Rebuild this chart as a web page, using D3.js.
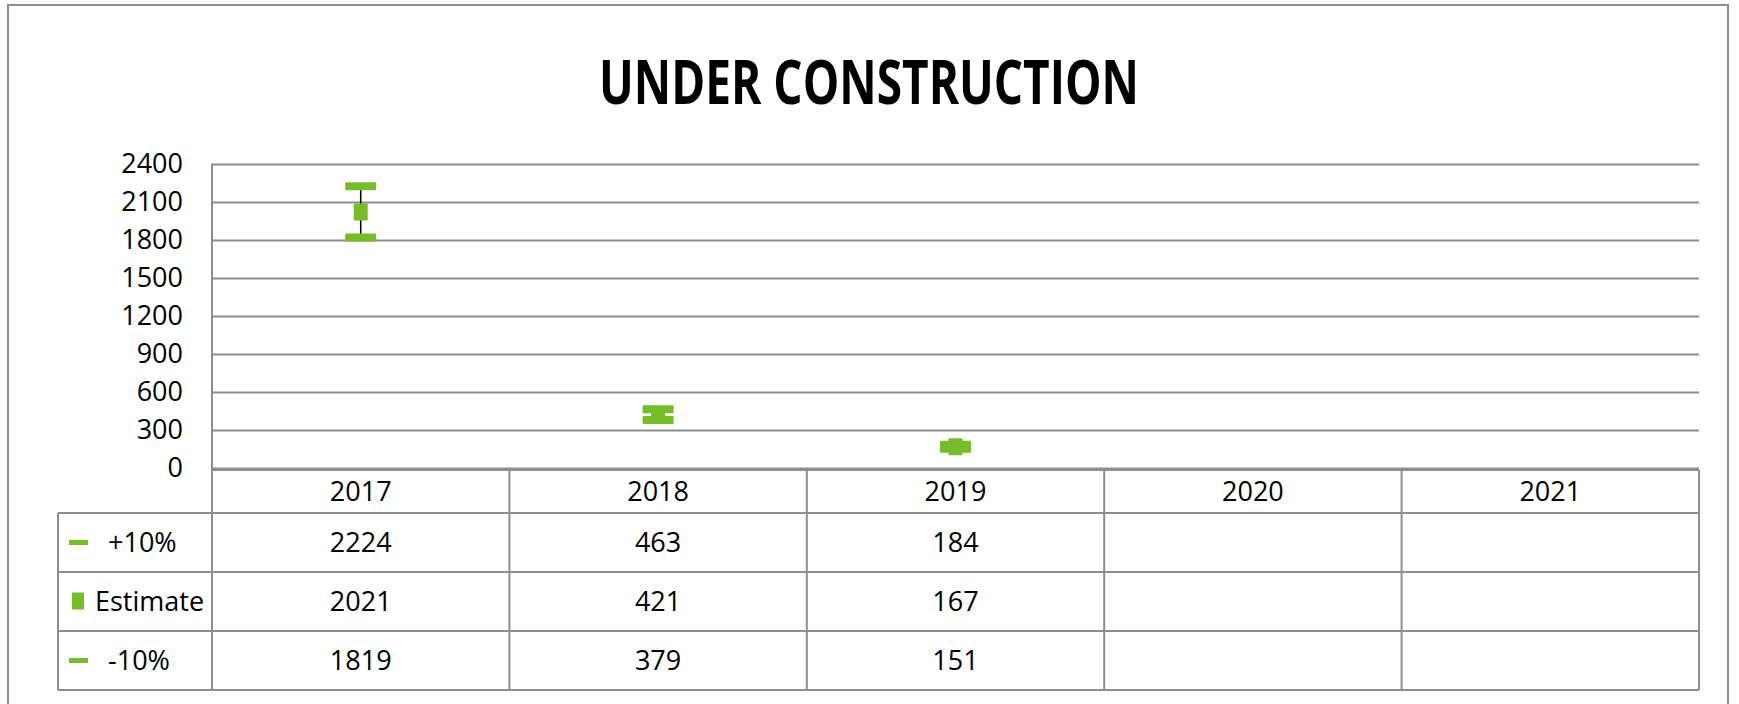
<!DOCTYPE html>
<html>
<head>
<meta charset="utf-8">
<script src="https://cdn.jsdelivr.net/npm/d3@7"></script>
<style>
  html, body { margin: 0; padding: 0; background: #fff; }
  svg { display: block; }
  text { font-family: "Open Sans", "Liberation Sans", sans-serif; fill: #000; }
</style>
</head>
<body>
<svg id="chart" width="1739" height="704"></svg>
<script>
// ---- data ----
const categories = ["2017", "2018", "2019", "2020", "2021"];
const seriesNames = ["+10%", "Estimate", "-10%"];
const plus10 = [2224, 463, 184, null, null];
const estimate = [2021, 421, 167, null, null];
const minus10 = [1819, 379, 151, null, null];
const yTicks = [0, 300, 600, 900, 1200, 1500, 1800, 2100, 2400];
const titleText = "UNDER CONSTRUCTION";

// ---- layout ----
const W = 1739, H = 704;
const green = "#77BC2A";
const gridColor = "#8E8E8E";
const plotLeft = 212, plotRight = 1699, plotTop = 164, plotBottom = 468;
const tableTop = 470, rowTops = [513, 572, 631], tableBottom = 690, legendLeft = 58;

const svg = d3.select("#chart");

// outer frame
svg.append("rect")
  .attr("x", 8).attr("y", 5).attr("width", 1720).attr("height", 710)
  .attr("fill", "none").attr("stroke", gridColor).attr("stroke-width", 2);

// title
svg.append("text")
  .attr("x", 869).attr("y", 104)
  .attr("text-anchor", "middle")
  .attr("font-size", 60).attr("font-weight", "bold")
  .attr("textLength", 540).attr("lengthAdjust", "spacingAndGlyphs")
  .text(titleText);

// scales
const x = d3.scaleBand().domain(categories).range([plotLeft, plotRight]).padding(0);
const y = d3.scaleLinear().domain([0, 2400]).range([plotBottom, plotTop]);

// gridlines + y labels
const yAxis = d3.axisLeft(y).tickValues(yTicks).tickSize(-(plotRight - plotLeft)).tickPadding(29).tickFormat(d3.format("d"));
const gy = svg.append("g").attr("transform", `translate(${plotLeft},0)`).call(yAxis);
gy.select(".domain").remove();
gy.selectAll(".tick line").attr("stroke", gridColor).attr("stroke-width", 2);
gy.selectAll(".tick text").attr("font-size", 27).attr("font-family", "\"Open Sans\", sans-serif").attr("fill", "#000");

// vertical axis line
svg.append("line")
  .attr("x1", plotLeft).attr("x2", plotLeft)
  .attr("y1", y(2400)).attr("y2", tableTop)
  .attr("stroke", gridColor).attr("stroke-width", 2);

// ---- data table ----
const tbl = svg.append("g");
// horizontal lines
tbl.append("line").attr("x1", plotLeft).attr("x2", plotRight).attr("y1", tableTop).attr("y2", tableTop)
  .attr("stroke", gridColor).attr("stroke-width", 2);
rowTops.concat([tableBottom]).forEach(yy => {
  tbl.append("line").attr("x1", legendLeft).attr("x2", plotRight).attr("y1", yy).attr("y2", yy)
    .attr("stroke", gridColor).attr("stroke-width", 2);
});
// vertical lines
const colEdges = categories.map(c => x(c)).concat([plotRight]);
colEdges.forEach(xx => {
  tbl.append("line").attr("x1", xx).attr("x2", xx).attr("y1", tableTop).attr("y2", tableBottom)
    .attr("stroke", gridColor).attr("stroke-width", 2);
});
tbl.append("line").attr("x1", legendLeft).attr("x2", legendLeft).attr("y1", rowTops[0]).attr("y2", tableBottom)
  .attr("stroke", gridColor).attr("stroke-width", 2);

// category labels
tbl.selectAll(".cat").data(categories).enter().append("text")
  .attr("x", d => x(d) + x.bandwidth() / 2)
  .attr("y", (tableTop + rowTops[0]) / 2)
  .attr("dy", "0.35em")
  .attr("text-anchor", "middle").attr("font-size", 27)
  .text(d => d);

// value rows
const seriesVals = [plus10, estimate, minus10];
const rowBounds = [[rowTops[0], rowTops[1]], [rowTops[1], rowTops[2]], [rowTops[2], tableBottom]];
seriesVals.forEach((vals, si) => {
  const cy = (rowBounds[si][0] + rowBounds[si][1]) / 2;
  tbl.selectAll(".v" + si).data(categories).enter().append("text")
    .attr("x", d => x(d) + x.bandwidth() / 2)
    .attr("y", cy).attr("dy", "0.35em")
    .attr("text-anchor", "middle").attr("font-size", 27)
    .text((d, i) => vals[i] == null ? "" : vals[i]);
  // legend key + label
  const isEst = seriesNames[si] === "Estimate";
  if (isEst) {
    tbl.append("rect").attr("x", 72).attr("y", cy - 9).attr("width", 12).attr("height", 17).attr("fill", green);
    tbl.append("text").attr("x", 95).attr("y", cy).attr("dy", "0.35em").attr("font-size", 27).text(seriesNames[si]);
  } else {
    tbl.append("rect").attr("x", 69).attr("y", cy - 2.5).attr("width", 19).attr("height", 5).attr("fill", green);
    tbl.append("text").attr("x", 108).attr("y", cy).attr("dy", "0.35em").attr("font-size", 27).text(seriesNames[si]);
  }
});

// ---- marks ----
const cx = c => x(c) + x.bandwidth() / 2;
const marks = svg.append("g");
// high-low lines
categories.forEach((c, i) => {
  if (plus10[i] == null) return;
  marks.append("line")
    .attr("x1", cx(c)).attr("x2", cx(c))
    .attr("y1", y(plus10[i])).attr("y2", y(minus10[i]))
    .attr("stroke", "#000").attr("stroke-width", 1.5);
});
// caps
[plus10, minus10].forEach(vals => {
  marks.selectAll(null).data(categories.filter((c, i) => vals[i] != null)).enter().append("rect")
    .attr("x", c => cx(c) - 15.5)
    .attr("y", c => y(vals[categories.indexOf(c)]) - 4)
    .attr("width", 31).attr("height", 8)
    .attr("rx", 1)
    .attr("fill", green);
});
// estimate markers
marks.selectAll(null).data(categories.filter((c, i) => estimate[i] != null)).enter().append("rect")
  .attr("x", c => cx(c) - 7)
  .attr("y", c => y(estimate[categories.indexOf(c)]) - 8.5)
  .attr("width", 14).attr("height", 17)
  .attr("rx", 1)
  .attr("fill", green);
</script>
</body>
</html>
